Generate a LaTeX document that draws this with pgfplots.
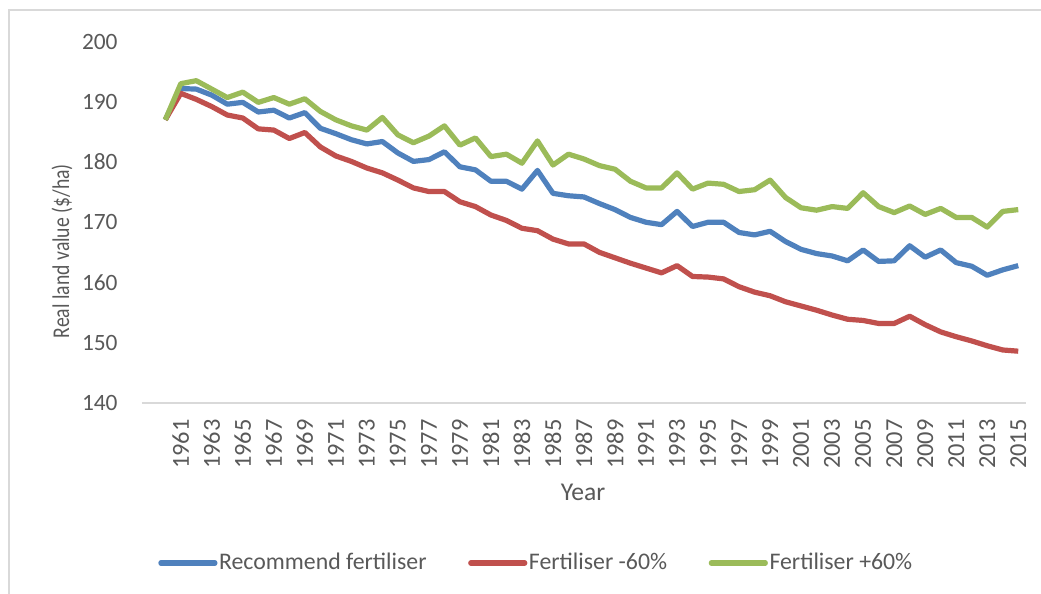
\documentclass[border=0pt]{standalone}
\usepackage{graphicx}
\usepackage{pgfplots}
\pgfplotsset{compat=1.18}
\usepackage{pgfplotstable}
\usepackage{fontspec}
\setmainfont{Carlito}
\definecolor{cblue}{HTML}{4F81BD}
\definecolor{cred}{HTML}{C0504D}
\definecolor{cgreen}{HTML}{9BBB59}
\definecolor{txt}{HTML}{595959}
\definecolor{frame}{HTML}{D9D9D9}
\pgfplotstableread{
year rec minus plus
1960 187.0 187.0 187.0
1961 192.2 191.4 193.0
1962 192.1 190.4 193.5
1963 191.1 189.2 192.1
1964 189.6 187.8 190.7
1965 189.9 187.3 191.6
1966 188.3 185.5 189.9
1967 188.6 185.3 190.7
1968 187.3 183.9 189.6
1969 188.2 184.9 190.5
1970 185.6 182.5 188.4
1971 184.7 181.0 187.0
1972 183.7 180.1 186.0
1973 183.0 179.0 185.3
1974 183.4 178.2 187.4
1975 181.5 177.0 184.5
1976 180.1 175.7 183.2
1977 180.4 175.1 184.3
1978 181.7 175.1 186.0
1979 179.2 173.4 182.8
1980 178.7 172.6 184.0
1981 176.8 171.2 180.9
1982 176.8 170.3 181.3
1983 175.5 169.0 179.8
1984 178.6 168.6 183.5
1985 174.8 167.2 179.5
1986 174.4 166.4 181.3
1987 174.2 166.4 180.5
1988 173.1 165.0 179.4
1989 172.1 164.1 178.8
1990 170.8 163.2 176.8
1991 170.0 162.4 175.7
1992 169.6 161.6 175.7
1993 171.8 162.8 178.2
1994 169.3 161.0 175.5
1995 170.0 160.9 176.5
1996 170.0 160.6 176.3
1997 168.3 159.3 175.1
1998 167.9 158.4 175.4
1999 168.5 157.8 177.0
2000 166.8 156.8 174.1
2001 165.5 156.1 172.4
2002 164.8 155.4 172.0
2003 164.4 154.6 172.6
2004 163.6 153.9 172.3
2005 165.4 153.7 174.9
2006 163.5 153.2 172.6
2007 163.6 153.2 171.6
2008 166.1 154.4 172.7
2009 164.2 153.0 171.3
2010 165.4 151.8 172.3
2011 163.3 151.0 170.8
2012 162.7 150.3 170.8
2013 161.2 149.5 169.2
2014 162.1 148.8 171.8
2015 162.8 148.6 172.1
}\datatable
\begin{document}
\begin{tikzpicture}
\useasboundingbox (-71pt,-95.5pt) rectangle (449.5pt,201.5pt);
\draw[frame, line width=0.7pt] (-66.5pt,-95.5pt) -- (-66.5pt,196.5pt) -- (449.5pt,196.5pt);
\begin{axis}[
  at={(0pt,0pt)}, anchor=south west,
  scale only axis, width=442pt, height=180.75pt,
  xmin=1958.5, xmax=2015.5, ymin=140, ymax=200,
  ytick={140,150,...,200},
  xtick={1961,1963,...,2015},
  major tick length=0pt,
  axis x line*=bottom, axis y line*=left,
  x axis line style={draw=frame, line width=0.7pt, -},
  y axis line style={draw=none},
  tick label style={text=txt},
  /pgf/number format/assume math mode=true,
  /pgf/number format/1000 sep={},
  yticklabel style={font=\fontsize{11.7}{14}\selectfont, anchor=east, inner sep=0pt, xshift=-12pt},
  xticklabel style={font=\fontsize{12.2}{14}\selectfont, rotate=90, anchor=east, inner sep=0pt},
  xticklabel shift=8pt,
  xlabel={Year}, ylabel={\scalebox{0.82}[1]{Real land value (\$/ha)}},
  label style={text=txt},
  xlabel style={font=\fontsize{12.8}{15}\selectfont, at={(axis description cs:0.499,-0.246)}, anchor=center},
  ylabel style={font=\fontsize{12}{14}\selectfont, at={(axis description cs:-0.0905,0.42)}, anchor=center},
  legend columns=3,
  legend style={at={(axis description cs:0.018,-0.4426)}, anchor=west, draw=none,
    inner sep=0pt, font=\fontsize{11.9}{14}\selectfont, text=txt,
    /tikz/every even column/.append style={column sep=20pt},
    nodes={inner sep=0.8pt}},
  legend image code/.code={\draw[#1, line cap=round] (0pt,0pt) -- (27pt,0pt);},
  every axis plot/.append style={line width=2.6pt, line join=round, mark=none},
]
\addplot[cblue] table[x=year, y=rec] {\datatable};
\addlegendentry{Recommend fertiliser}
\addplot[cred] table[x=year, y=minus] {\datatable};
\addlegendentry{Fertiliser -60\%}
\addplot[cgreen] table[x=year, y=plus] {\datatable};
\addlegendentry{Fertiliser +60\%}
\end{axis}
\end{tikzpicture}
\end{document}
